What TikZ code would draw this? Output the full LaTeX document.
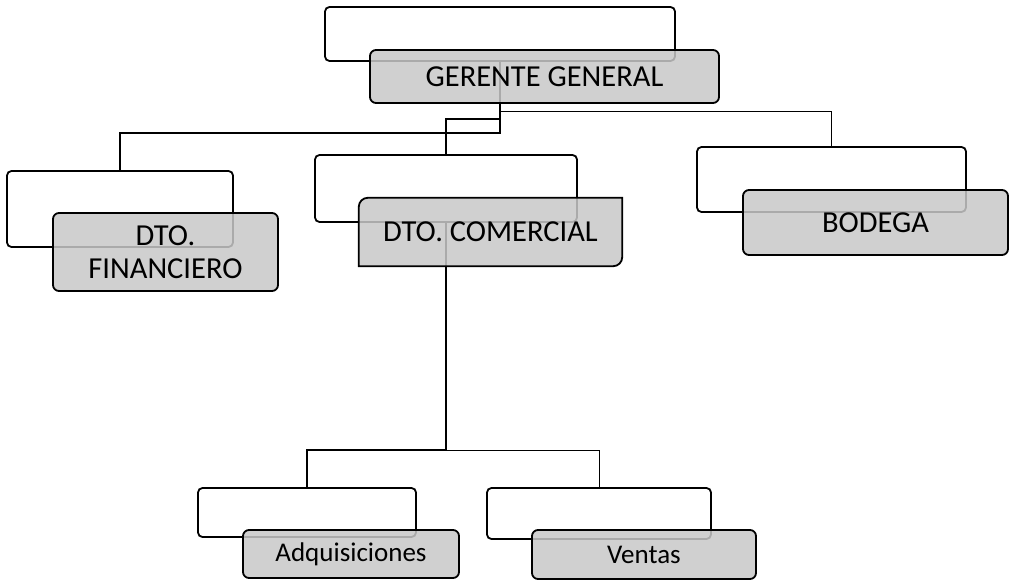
\documentclass[tikz,border=0pt]{standalone}
\usepackage{fontspec}
\setmainfont{Carlito}
\begin{document}
\begin{tikzpicture}[x=1pt,y=-1pt,
  wbox/.style={draw=black,line width=1.8pt,rounded corners=4.5pt,fill=white,inner sep=0pt},
  gbox/.style={draw=black,line width=1.8pt,rounded corners=6pt,fill={rgb,255:red,200;green,200;blue,200},fill opacity=0.85,text opacity=1,draw opacity=1,inner sep=0pt,align=center},
  gshape/.style={draw=black,line width=1.8pt,fill={rgb,255:red,200;green,200;blue,200},fill opacity=0.85,draw opacity=1},
  thk/.style={line width=1.8pt},
  med/.style={line width=1.4pt},
  thn/.style={line width=0.9pt},
  big/.style={font=\fontsize{30.5}{34}\selectfont},
  mid/.style={font=\fontsize{30.5}{33}\selectfont},
  sml/.style={font=\fontsize{27}{30}\selectfont}
]
\useasboundingbox (0,0) rectangle (1009,580);
% white boxes
\node[wbox,minimum width=350pt,minimum height=54pt] (topw) at (500,34) {};
\node[wbox,minimum width=226pt,minimum height=76pt] (finw) at (120,209) {};
\node[wbox,minimum width=262pt,minimum height=67pt] (comw) at (446,188.5) {};
\node[wbox,minimum width=269pt,minimum height=65pt] (bodw) at (831.5,179.5) {};
\node[wbox,minimum width=218pt,minimum height=49pt] (adqw) at (307,512.5) {};
\node[wbox,minimum width=224pt,minimum height=51pt] (venw) at (599,513.5) {};
% junction coordinates
\coordinate (j1) at (500,133);
\coordinate (j2) at (500,119);
\coordinate (j3) at (500,111);
\coordinate (j4) at (446,450);
% connectors
\draw[thk] (topw.south) -- (j1) -| (finw.north);
\draw[med] (j2) -| (comw.north);
\draw[thn] (j3) -| (bodw.north);
\draw[thk] (comw.south) -- (j4) -| (adqw.north);
\draw[thn] (j4) -| (venw.north);
% gray boxes
\node[gbox,big,minimum width=349pt,minimum height=53pt] (gg) at (544.5,76.5) {GERENTE GENERAL};
\node[gbox,mid,minimum width=225pt,minimum height=78pt] (fing) at (165.5,252) {DTO.\\FINANCIERO};
\node[mid,minimum width=263pt,minimum height=68pt,inner sep=0pt] (comg) at (490.5,232) {};
\path[gshape] (comg.south west) -- ([yshift=-9pt]comg.north west) arc[start angle=180,end angle=90,radius=9pt] -- (comg.north east) -- ([yshift=9pt]comg.south east) arc[start angle=0,end angle=-90,radius=9pt] -- cycle;
\node[mid] (comt) at (comg.center) {DTO. COMERCIAL};
\node[gbox,mid,minimum width=265pt,minimum height=65pt] (bodg) at (875.5,222.5) {BODEGA};
\node[gbox,sml,minimum width=216pt,minimum height=48pt] (adqg) at (351,554) {Adquisiciones};
\node[gbox,sml,minimum width=224pt,minimum height=49pt] (veng) at (644,554.5) {Ventas};
\end{tikzpicture}
\end{document}
